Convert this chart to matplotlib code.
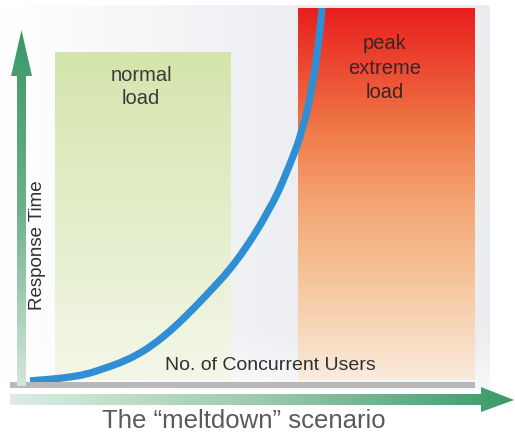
import numpy as np
import matplotlib
matplotlib.use("Agg")
import matplotlib.pyplot as plt
from matplotlib.colors import LinearSegmentedColormap
from matplotlib.patches import Polygon, Rectangle, PathPatch
from matplotlib.path import Path

# ---- data (chart units: 0..100 on both axes) ----
users = [2.2, 7.3, 11.0, 14.7, 18.2, 22.0, 25.7, 29.2, 33.0, 36.3, 40.2,
         47.7, 54.9, 58.7, 62.2, 64.4, 65.7, 66.4]
response = [0.3, 0.8, 1.3, 2.1, 3.5, 5.1, 7.2, 9.9, 13.6, 17.4, 22.2,
            32.1, 46.0, 56.1, 67.4, 79.9, 91.4, 100.0]
normal_range = (7.7, 46.2)
normal_top = 88.2
peak_range = (61.1, 100.0)
peak_top = 100.0
region_labels = ["normal\nload", "peak\nextreme\nload"]
x_label = "No. of Concurrent Users"
y_label = "Response Time"
caption = "The \u201cmeltdown\u201d scenario"

plt.rcParams['font.family'] = ['Liberation Sans', 'DejaVu Sans']

W, H = 515, 434
fig = plt.figure(figsize=(W / 100, H / 100), dpi=100)
fig.patch.set_facecolor('white')

# background axes in pixel coordinates
bg = fig.add_axes([0, 0, 1, 1])
bg.set_xlim(0, W)
bg.set_ylim(H, 0)
bg.axis('off')

# soft panel background
xx = np.linspace(0, 1, 200)
yy = np.linspace(0, 1, 100)
X, Y = np.meshgrid(xx, yy)
f = np.clip(X * 1.6, 0, 1) * (1 - 0.6 * np.clip((Y - 0.85) / 0.15, 0, 1))
base = np.array([1.0, 1.0, 1.0])
gray = np.array([0.922, 0.930, 0.945])
img = base[None, None, :] * (1 - f[..., None]) + gray[None, None, :] * f[..., None]
bg.imshow(img, extent=(0, 490, 390, 5), aspect='auto', interpolation='bilinear', zorder=0)

# gray axis line
bg.add_patch(Rectangle((10, 382), 465, 5.5, color='#b8b8b8', lw=0, zorder=4))

grad = np.linspace(0, 1, 256)[:, None]

# vertical arrow (gradient)
v_poly = Polygon([(17, 386), (26, 386), (26, 76), (32, 76), (21.5, 30), (11, 76), (17, 76)],
                 closed=True, facecolor='none', edgecolor='none')
bg.add_patch(v_poly)
v_cmap = LinearSegmentedColormap.from_list('v', ['#3a9868', '#6db08c', '#d2e8dc'])
im = bg.imshow(grad, cmap=v_cmap, extent=(10, 33, 386, 30), aspect='auto',
               origin='upper', interpolation='bilinear', zorder=4)
im.set_clip_path(v_poly)

# horizontal arrow (gradient)
h_poly = Polygon([(10, 394), (481, 394), (481, 387), (514, 400), (481, 412), (481, 405), (10, 405)],
                 closed=True, facecolor='none', edgecolor='none')
bg.add_patch(h_poly)
h_cmap = LinearSegmentedColormap.from_list('h', ['#dcede3', '#9cc9ae', '#3a9a68'])
im2 = bg.imshow(np.linspace(0, 1, 256)[None, :], cmap=h_cmap, extent=(10, 515, 413, 386),
                aspect='auto', origin='upper', interpolation='bilinear', zorder=4)
im2.set_clip_path(h_poly)

# data axes
x0, y0, x1, y1 = 20, 382, 475, 8
ax = fig.add_axes([x0 / W, (H - y0) / H, (x1 - x0) / W, (y0 - y1) / H])
ax.set_xlim(0, 100)
ax.set_ylim(0, 100)
ax.patch.set_alpha(0)
ax.axis('off')

green_cmap = LinearSegmentedColormap.from_list(
    'g', [(0, '#d4e5ac'), (0.45, '#e2edc8'), (1.0, '#f4f7e8')])
red_cmap = LinearSegmentedColormap.from_list(
    'r', [(0, '#e81e1e'), (0.15, '#ec4630'), (0.33, '#f07a48'),
          (0.52, '#f4a472'), (0.75, '#f6c89e'), (1.0, '#f9ebdc')])
ax.imshow(grad, cmap=green_cmap, extent=(normal_range[0], normal_range[1], 0.5, normal_top),
          aspect='auto', origin='upper', interpolation='bilinear', zorder=1)
ax.imshow(grad, cmap=red_cmap, extent=(peak_range[0], peak_range[1], 0.5, peak_top),
          aspect='auto', origin='upper', interpolation='bilinear', zorder=1)

# smooth curve through the read points (quadratic Bezier segments via midpoints)
pts = np.column_stack([users, response])
verts = [tuple(pts[0])]
codes = [Path.MOVETO]
verts.append(tuple((pts[0] + pts[1]) / 2)); codes.append(Path.LINETO)
for i in range(1, len(pts) - 1):
    verts.append(tuple(pts[i])); codes.append(Path.CURVE3)
    verts.append(tuple((pts[i] + pts[i + 1]) / 2)); codes.append(Path.CURVE3)
verts.append(tuple(pts[-1])); codes.append(Path.LINETO)
curve = PathPatch(Path(verts, codes), facecolor='none', edgecolor='#2f8fd4',
                  lw=5.2, capstyle='butt', joinstyle='round', zorder=3)
ax.add_patch(curve)

# region labels (placed in pixel coordinates, drawn above the regions)
ax.text(141, 87, region_labels[0], transform=bg.transData, ha='center', va='center',
        fontsize=14.5, color='#3a3a3a', linespacing=1.25, zorder=5)
ax.text(385, 68, region_labels[1], transform=bg.transData, ha='center', va='center',
        fontsize=14.5, color='#3a2424', linespacing=1.38, zorder=5)

# axis labels and caption
ax.text(270, 365, x_label, transform=bg.transData, ha='center', va='center',
        fontsize=14, color='#303030', zorder=5)
ax.text(37, 245, y_label, transform=bg.transData, ha='center', va='center', rotation=90,
        fontsize=13.5, color='#303030', zorder=5)
ax.text(244, 421, caption, transform=bg.transData, ha='center', va='center',
        fontsize=18.5, color='#5a5a5a', zorder=5)

fig.savefig('out.png', dpi=100)
